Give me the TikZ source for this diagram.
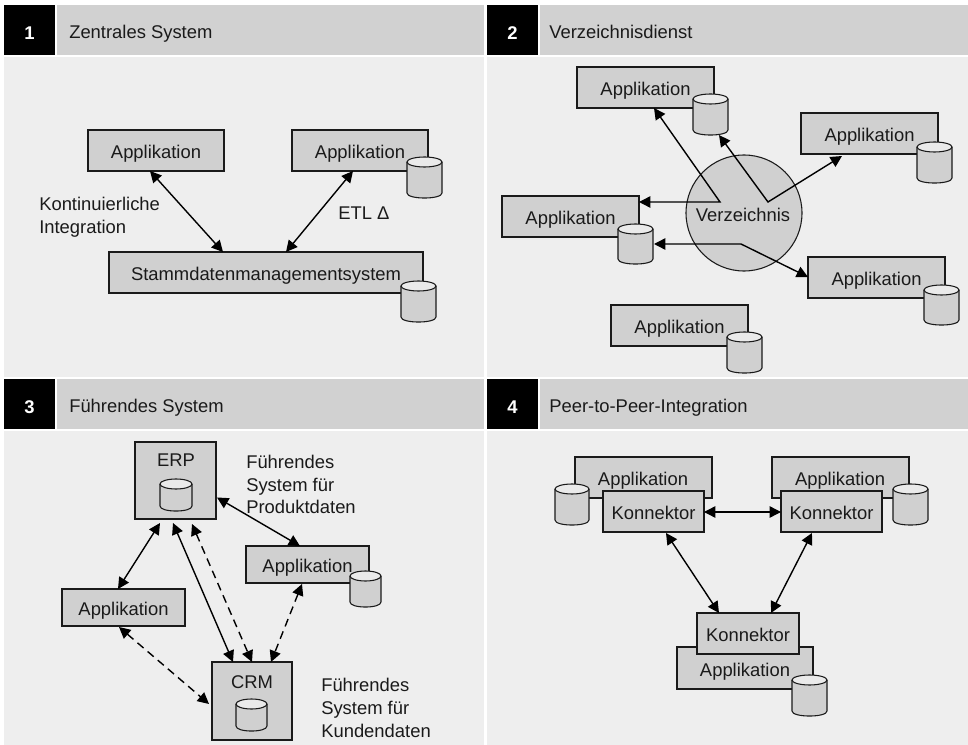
\documentclass[tikz,border=0pt]{standalone}
\usepackage{fontspec}
\setmainfont{Liberation Sans}
\usetikzlibrary{arrows.meta,calc,shapes.geometric}
\definecolor{panelbg}{HTML}{EEEEEE}
\definecolor{headbg}{HTML}{D1D1D1}
\definecolor{boxbg}{HTML}{D0D0D0}
\definecolor{cyltop}{HTML}{EAEAEA}
\definecolor{ink}{HTML}{1A1A1A}
\tikzset{
  every node/.style={font=\fontsize{13.8}{17}\selectfont,text=ink},
  boxst/.style={draw=ink,fill=boxbg,line width=0.8pt,inner sep=0pt,outer sep=0pt,text height=11.5pt,text depth=0pt},
  headtext/.style={anchor=west,inner sep=0pt,text height=13pt,text depth=0pt},
  numbox/.style={fill=black,inner sep=0pt,outer sep=0pt,text=white,font=\fontsize{13.8}{17}\selectfont\bfseries,text height=14.5pt,text depth=0pt},
  headbar/.style={fill=headbg},
  panelfill/.style={fill=panelbg},
  freetext/.style={anchor=west,inner sep=0pt,align=left},
  conn/.style={line width=1.05pt,draw=black,{Triangle[length=8.5pt,width=8.5pt]}-{Triangle[length=8.5pt,width=8.5pt]}},
  dashconn/.style={conn,dash pattern=on 6pt off 4pt},
  cylline/.style={draw=ink,line width=0.8pt}
}
% \abox{name}{x1}{y1}{x2}{y2}{text}
\newcommand{\abox}[6]{%
  \pgfmathsetmacro{\cxx}{(#2+#4)/2}\pgfmathsetmacro{\cyy}{(#3+#5)/2}%
  \pgfmathsetmacro{\ww}{(#4-#2)*0.75}\pgfmathsetmacro{\hh}{(#5-#3)*0.75}%
  \node[boxst,minimum width=\ww pt,minimum height=\hh pt] (#1) at (\cxx,\cyy) {#6};}
% \dbcyl{name}{x1}{y1}{x2}{y2}
\newcommand{\dbcyl}[5]{%
  \pgfmathsetmacro{\cxx}{(#2+#4)/2}\pgfmathsetmacro{\cyy}{(#3+#5)/2}%
  \pgfmathsetmacro{\ww}{(#4-#2)*0.75}\pgfmathsetmacro{\hh}{(#5-#3)*0.75}%
  \pgfmathsetmacro{\rxx}{(#4-#2)/2}%
  \pgfmathsetmacro{\ytop}{#3+5}\pgfmathsetmacro{\ybot}{#5-5}\pgfmathsetmacro{\yc}{#5+1.7}%
  \fill[boxbg] (#2,\ytop) -- (#2,\ybot) .. controls (#2,\yc) and (#4,\yc) .. (#4,\ybot) -- (#4,\ytop) -- cycle;
  \draw[cylline] (#2,\ytop) -- (#2,\ybot) .. controls (#2,\yc) and (#4,\yc) .. (#4,\ybot) -- (#4,\ytop);
  \draw[cylline,fill=cyltop] (\cxx,\ytop) ellipse [x radius=\rxx,y radius=5];
  \node[inner sep=0pt,outer sep=0pt,minimum width=\ww pt,minimum height=\hh pt] (#1) at (\cxx,\cyy) {};}
% \panelhead{name}{x1}{x2}{y1}{number}{title}{textx}
\newcommand{\panelhead}[7]{%
  \pgfmathsetmacro{\yb}{#4+50}\pgfmathsetmacro{\xb}{#2+51}\pgfmathsetmacro{\xh}{#2+53}%
  \pgfmathsetmacro{\cxx}{#2+25.5}\pgfmathsetmacro{\cyy}{#4+25}%
  \fill[headbar] (\xh,#4) rectangle (#3,\yb);
  \node[numbox,minimum width=38.25pt,minimum height=37.5pt] (#1n) at (\cxx,\cyy) {#5};
  \node[headtext] (#1t) at (#7,\cyy) {#6};}
\begin{document}
\begin{tikzpicture}[x=0.75pt,y=-0.75pt]
\useasboundingbox (0,0) rectangle (968,745);
\fill[white] (0,0) rectangle (968,745);
\fill[panelfill] (4,57) rectangle (484,377);
\fill[panelfill] (487,57) rectangle (968,377);
\fill[panelfill] (4,431) rectangle (484,745);
\fill[panelfill] (487,431) rectangle (968,745);
\panelhead{pa}{4}{484}{5}{1}{Zentrales System}{69}
\panelhead{pb}{487}{968}{5}{2}{Verzeichnisdienst}{549}
\panelhead{pc}{4}{484}{379}{3}{Führendes System}{69}
\panelhead{pd}{487}{968}{379}{4}{Peer-to-Peer-Integration}{549}

% Panel 1
\abox{aa}{88}{130}{224}{171}{Applikation}
\abox{ab}{292}{130}{428}{171}{Applikation}
\dbcyl{abc}{407}{157}{442}{198}
\abox{as}{109}{252}{423}{293}{Stammdatenmanagementsystem}
\dbcyl{asc}{401}{281}{436}{322}
\draw[conn] ($(aa.south west)+(62,0)$) -- ($(as.north west)+(114,0)$);
\draw[conn] ($(ab.south west)+(61,0)$) -- ($(as.north west)+(177,0)$);
\node[freetext] (akont) at (39,217) {Kontinuierliche\\Integration};
\node[freetext] (aetl) at (338,213) {ETL Δ};

% Panel 2
\node[circle,draw=ink,fill=boxbg,line width=0.8pt,minimum size=87pt,inner sep=0pt,outer sep=0pt] (bv) at (744,213) {};
\node[inner sep=0pt] (bvt) at (743,214.5) {Verzeichnis};
\abox{ba}{577}{67}{714}{108}{Applikation}
\dbcyl{bac}{693}{94}{728}{135}
\abox{bb}{801}{113}{938}{154}{Applikation}
\dbcyl{bbc}{917}{142}{952}{183}
\abox{bc}{502}{196}{639}{237}{Applikation}
\dbcyl{bcc}{618}{224}{653}{264}
\abox{bd}{808}{257}{945}{298}{Applikation}
\dbcyl{bdc}{924}{285}{959}{325}
\abox{be}{611}{305}{748}{346}{Applikation}
\dbcyl{bec}{727}{332}{762}{373}
\coordinate (bj1) at (720,202);
\coordinate (bj2) at (768,202);
\coordinate (bj3) at (741,244);
\draw[conn] ($(ba.south west)+(77,0)$) -- (bj1) -- ($(bc.north east)+(0,6)$);
\draw[conn] ($(bac.south west)+(26,0)$) -- (bj2) -- ($(bb.south west)+(41,2)$);
\draw[conn] ($(bcc.east)+(1,0)$) -- (bj3) -- ($(bd.north west)+(0,20)$);

% Panel 3
\abox{ce}{135}{442}{216}{519}{}
\node[inner sep=0pt] (cel) at (176,460) {ERP};
\dbcyl{cec}{160}{479}{192}{511}
\abox{cc}{212}{662}{292}{740}{}
\node[inner sep=0pt] (ccl) at (252,682) {CRM};
\dbcyl{ccc}{236}{699}{267}{731}
\abox{cr}{246}{546}{369}{583}{Applikation}
\dbcyl{crc}{350}{571}{381}{607}
\abox{cl}{62}{589}{185}{626}{Applikation}
\draw[conn] ($(ce.south west)+(25,4)$) -- ($(cl.north west)+(56,0)$);
\draw[conn] ($(ce.south west)+(38,4)$) -- ($(cc.north west)+(21,0)$);
\draw[dashconn] ($(ce.south west)+(57,5)$) -- ($(cc.north west)+(40,0)$);
\draw[conn] ($(ce.east)+(1,17)$) -- ($(cr.north west)+(54,0)$);
\draw[dashconn] ($(cr.south west)+(56,1)$) -- ($(cc.north west)+(59,0)$);
\draw[dashconn] ($(cl.south west)+(57,1)$) -- ($(cc.west)+(-3,3)$);
\node[freetext] (ctx1) at (246,484.5) {Führendes\\System für\\Produktdaten};
\node[freetext] (ctx2) at (321,708) {Führendes\\System für\\Kundendaten};

% Panel 4
\abox{da}{575}{457}{712}{498}{}
\node[inner sep=0pt] (dat) at (643,481) {Applikation};
\dbcyl{dac}{555}{484}{589}{525}
\abox{dk}{603}{491}{704}{532}{Konnektor}
\abox{db}{772}{457}{909}{498}{}
\node[inner sep=0pt] (dbt) at (840,481) {Applikation};
\dbcyl{dbc}{893}{484}{928}{525}
\abox{dl}{781}{491}{882}{532}{Konnektor}
\abox{dc}{677}{647}{813}{689}{}
\node[inner sep=0pt] (dct) at (745,672) {Applikation};
\dbcyl{dcc}{792}{675}{827}{716}
\abox{dm}{697}{613}{799}{654}{Konnektor}
\draw[conn] ($(dk.east)+(0,0.5)$) -- ($(dl.west)+(0,0.5)$);
\draw[conn] ($(dk.south west)+(63,1)$) -- ($(dm.north west)+(22,0)$);
\draw[conn] ($(dl.south west)+(31,1)$) -- ($(dm.north west)+(74,0)$);
\end{tikzpicture}
\end{document}
